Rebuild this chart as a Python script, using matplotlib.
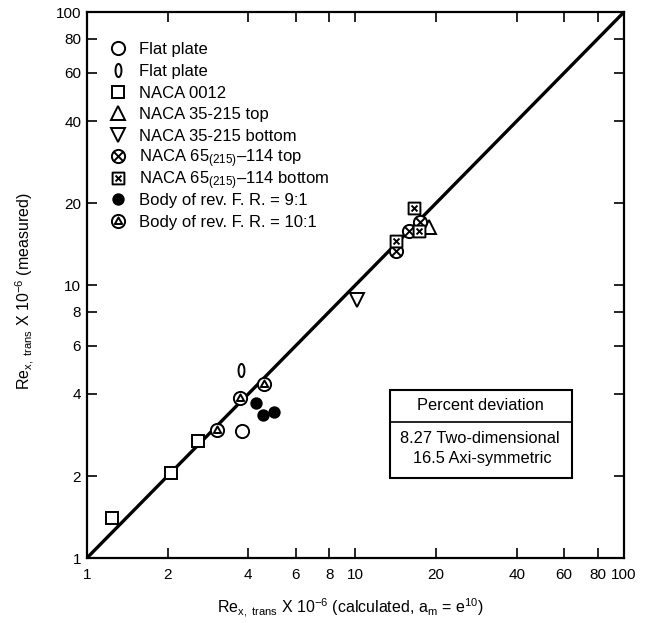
import numpy as np
import matplotlib
matplotlib.use("Agg")
import matplotlib.pyplot as plt
from matplotlib.path import Path
from matplotlib.patches import Rectangle

plt.rcParams['font.family'] = ['Liberation Sans', 'DejaVu Sans']
plt.rcParams['mathtext.fontset'] = 'custom'
plt.rcParams['mathtext.rm'] = 'Liberation Sans'
plt.rcParams['mathtext.it'] = 'Liberation Sans'

# Transition Reynolds numbers (x 10^-6): calculated vs measured
flat_plate_x = [3.79]
flat_plate_y = [2.92]
flat_plate2_x = [3.77]
flat_plate2_y = [4.88]
naca0012_x = [1.24, 2.06, 2.59]
naca0012_y = [1.40, 2.05, 2.68]
naca35_top_x = [18.8]
naca35_top_y = [16.4]
naca35_bot_x = [10.2]
naca35_bot_y = [8.8]
naca65_top_x = [17.4, 15.9, 14.2]
naca65_top_y = [17.1, 15.8, 13.4]
naca65_bot_x = [16.5, 17.3, 14.2]
naca65_bot_y = [19.2, 15.8, 14.5]
body9_x = [4.26, 4.55, 5.00]
body9_y = [3.69, 3.36, 3.44]
body10_x = [3.06, 3.72, 4.58]
body10_y = [2.95, 3.85, 4.36]

ticks = [1, 2, 4, 6, 8, 10, 20, 40, 60, 80, 100]
tick_labels = [str(t) for t in ticks]

deviation_title = "Percent deviation"
deviation_lines = ["8.27 Two-dimensional", "16.5 Axi-symmetric"]

# custom marker shapes
M, L, C = Path.MOVETO, Path.LINETO, Path.CLOSEPOLY
circle = Path.unit_circle()
theta = np.linspace(0, 2 * np.pi, 60)
ellipse = Path(np.column_stack([0.45 * np.cos(theta), np.sin(theta)]), closed=True)
square = Path([(-1, -1), (1, -1), (1, 1), (-1, 1), (-1, -1)], [M, L, L, L, C])
cross = Path([(-0.62, -0.62), (0.62, 0.62), (-0.62, 0.62), (0.62, -0.62)], [M, L, M, L])
small_cross = Path([(-0.5, -0.5), (0.5, 0.5), (-0.5, 0.5), (0.5, -0.5)], [M, L, M, L])
tri_in = Path([(0, 0.62), (-0.55, -0.38), (0.55, -0.38), (0, 0.62)], [M, L, L, C])
circ_x = Path.make_compound_path(circle, cross)
sq_x = Path.make_compound_path(square, small_cross)
circ_tri = Path.make_compound_path(circle, tri_in)

series = [
    (flat_plate_x, flat_plate_y, "o", 9.5, "white", "Flat plate"),
    (flat_plate2_x, flat_plate2_y, ellipse, 9.5, "white", "Flat plate"),
    (naca0012_x, naca0012_y, "s", 8, "white", "NACA 0012"),
    (naca35_top_x, naca35_top_y, "^", 9.5, "white", "NACA 35-215 top"),
    (naca35_bot_x, naca35_bot_y, "v", 9.5, "white", "NACA 35-215 bottom"),
    (naca65_top_x, naca65_top_y, circ_x, 9.5, "white", "NACA 65$_{(215)}$\u2013114 top"),
    (naca65_bot_x, naca65_bot_y, sq_x, 8.5, "white", "NACA 65$_{(215)}$\u2013114 bottom"),
    (body9_x, body9_y, "o", 7.5, "black", "Body of rev. F. R. = 9:1"),
    (body10_x, body10_y, circ_tri, 9.5, "white", "Body of rev. F. R. = 10:1"),
]

fig = plt.figure(figsize=(6.62, 6.23), dpi=100)
ax = fig.add_axes([0.131, 0.104, 0.811, 0.876])
ax.set_xscale("log")
ax.set_yscale("log")
ax.set_xlim(1, 100)
ax.set_ylim(1, 100)

# line of perfect agreement
ax.plot([1, 100], [1, 100], color="black", lw=2.4, zorder=2)

# data points plus a key in the upper left, one row per series
key_top, key_step = 0.934, 0.0395
for i, (xs, ys, mk, ms, fc, lab) in enumerate(series):
    style = dict(linestyle="none", marker=mk, markersize=ms, markerfacecolor=fc,
                 markeredgecolor="black", markeredgewidth=1.4)
    ax.plot(xs, ys, zorder=3, **style)
    ky = key_top - i * key_step
    ax.plot([0.058], [ky], transform=ax.transAxes, clip_on=False, zorder=3, **style)
    ax.text(0.097, ky - 0.011, lab, transform=ax.transAxes, ha="left",
            va="baseline", fontsize=12)

ax.xaxis.set_minor_locator(matplotlib.ticker.NullLocator())
ax.yaxis.set_minor_locator(matplotlib.ticker.NullLocator())
ax.set_xticks(ticks)
ax.set_xticklabels(tick_labels)
ax.set_yticks(ticks)
ax.set_yticklabels(tick_labels)
ax.tick_params(which="both", direction="in", length=7, width=1.2,
               top=True, right=True, labelsize=11)
ax.tick_params(axis="x", pad=7)
ax.tick_params(axis="y", pad=4)
for sp in ax.spines.values():
    sp.set_linewidth(1.6)

ax.set_xlabel(r"Re$_{x,\ trans}$ X 10$^{-6}$ (calculated, a$_m$ = e$^{10}$)", fontsize=11.5)
ax.xaxis.set_label_coords(0.49, -0.07)
ax.set_ylabel(r"Re$_{x,\ trans}$ X 10$^{-6}$ (measured)", fontsize=11.5)
ax.yaxis.set_label_coords(-0.094, 0.49)

# percent deviation box
ax.add_patch(Rectangle((0.564, 0.1465), 0.339, 0.161, transform=ax.transAxes,
                       fill=False, edgecolor="black", lw=1.5, zorder=4))
ax.plot([0.564, 0.903], [0.249, 0.249], transform=ax.transAxes,
        color="black", lw=1.2, zorder=4)
ax.text(0.734, 0.279, deviation_title, transform=ax.transAxes,
        ha="center", va="center", fontsize=11.8)
ax.text(0.732, 0.219, deviation_lines[0], transform=ax.transAxes,
        ha="center", va="center", fontsize=11.8)
ax.text(0.736, 0.183, deviation_lines[1], transform=ax.transAxes,
        ha="center", va="center", fontsize=11.8)

fig.savefig("out.png", dpi=100)
